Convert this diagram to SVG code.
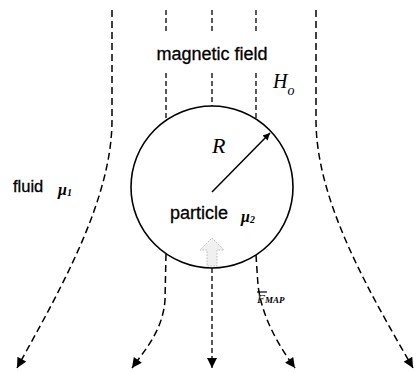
<svg xmlns="http://www.w3.org/2000/svg" width="416" height="372" viewBox="0 0 416 372">
<style>
.fl{fill:none;stroke:#000;stroke-width:1.5;stroke-dasharray:7 4}
.vf{fill:none;stroke:#000;stroke-width:1.3;stroke-dasharray:5 3}
.lbl{font-family:"Liberation Sans",Arial,sans-serif;fill:#000;stroke:#000;stroke-width:0.3}
.mth{font-family:"Liberation Serif","Times New Roman",serif;font-style:italic;fill:#000}
</style>
<defs>
<marker id="ah" viewBox="0 0 10 10" refX="10" refY="5" markerWidth="12" markerHeight="10" markerUnits="userSpaceOnUse" orient="auto">
<path d="M0,0 L10,5 L0,10 Z" fill="#000"/>
</marker>
<marker id="rh" viewBox="0 0 10 10" refX="10" refY="5" markerWidth="9" markerHeight="7" markerUnits="userSpaceOnUse" orient="auto">
<path d="M0,0 L10,5 L0,10 Z" fill="#000"/>
</marker>
</defs>
<g id="connectors">
<path class="fl" d="M112,10 L112,120 C112,200 60,290 17,368" marker-end="url(#ah)"/>
<path class="fl" d="M316,10 L316,120 C316,200 368,290 413,368" marker-end="url(#ah)"/>
<path class="vf" d="M166,10 L166,32 M166,73 L166,120"/>
<path class="vf" d="M212,10 L212,32 M212,73 L212,106"/>
<path class="vf" d="M256,10 L256,32 M256,73 L256,119"/>
<path class="fl" d="M166,254 L165,300 C163,330 145,350 132,368" marker-end="url(#ah)"/>
<path class="vf" d="M212,268 L212,368" marker-end="url(#ah)"/>
<path class="fl" d="M256,255 L258,285 C262,320 282,350 295,368" marker-end="url(#ah)"/>
</g>
<g id="particle">
<circle cx="212" cy="187" r="81" fill="none" stroke="#000" stroke-width="1.6"/>
<line x1="212" y1="192" x2="270" y2="133" stroke="#000" stroke-width="1.5" marker-end="url(#rh)"/>
<text class="mth" x="212" y="153" font-size="22">R</text>
<text class="lbl" x="170" y="219" font-size="18">particle</text>
<text class="mth" x="241" y="222" font-size="16" font-weight="bold">μ<tspan font-size="10" dy="1">2</tspan></text>
<path d="M212,238 L224,250 L217,250 L217,266 L207,266 L207,250 L200,250 Z" fill="#f0f0f0" stroke="#b8b8b8" stroke-width="1" stroke-dasharray="1.5 1.5"/>
</g>
<g id="field-label">
<text class="lbl" x="212" y="60" font-size="18" text-anchor="middle">magnetic field</text>
<text class="mth" x="273" y="88" font-size="20">H<tspan font-size="14" dy="7">o</tspan></text>
</g>
<g id="fluid-label">
<text class="lbl" x="13" y="192" font-size="16.5">fluid</text>
<text class="mth" x="58" y="195" font-size="16" font-weight="bold">μ<tspan font-size="10" dy="1">1</tspan></text>
</g>
<g id="force-label">
<line x1="257" y1="292" x2="267" y2="292" stroke="#000" stroke-width="1.2"/>
<text class="mth" x="257" y="303" font-size="13">F<tspan font-size="9" font-weight="bold">MAP</tspan></text>
</g>
</svg>
